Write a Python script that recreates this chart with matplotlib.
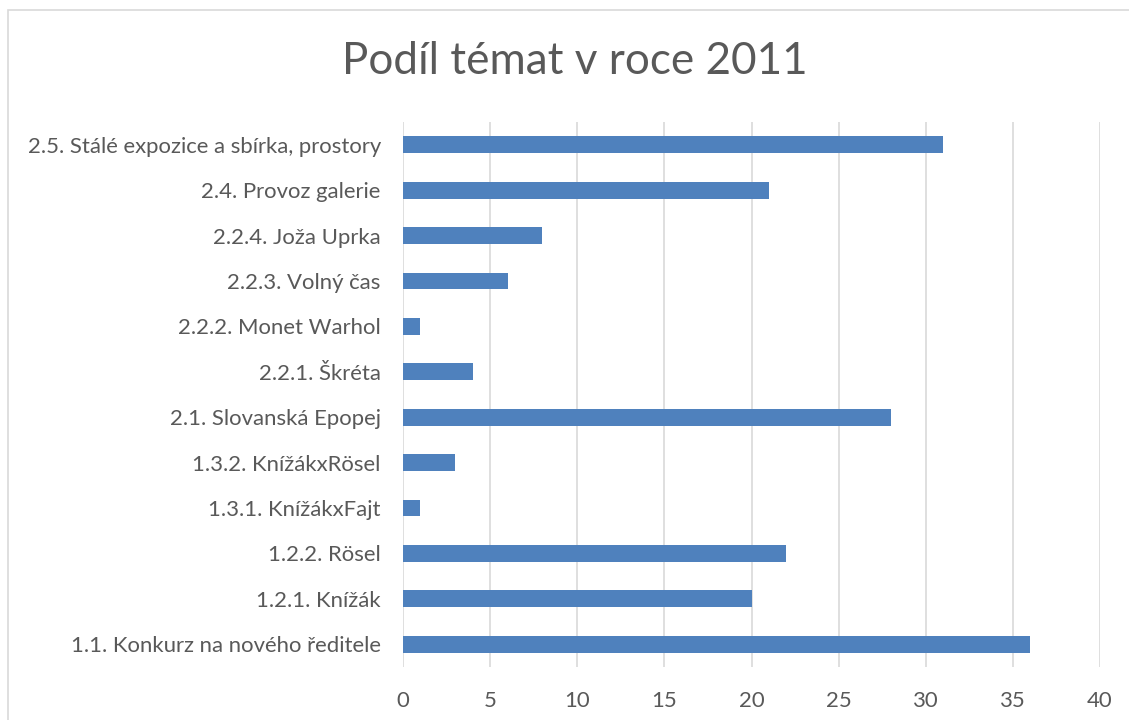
import matplotlib.pyplot as plt
from matplotlib.patches import Rectangle

categories = [
    '1.1. Konkurz na nového ředitele',
    '1.2.1. Knížák',
    '1.2.2. Rösel',
    '1.3.1. KnížákxFajt',
    '1.3.2. KnížákxRösel',
    '2.1. Slovanská Epopej',
    '2.2.1. Škréta',
    '2.2.2. Monet Warhol',
    '2.2.3. Volný čas',
    '2.2.4. Joža Uprka',
    '2.4. Provoz galerie',
    '2.5. Stálé expozice a sbírka, prostory',
]
values = [36, 20, 22, 1, 3, 28, 4, 1, 6, 8, 21, 31]
xticks = [0, 5, 10, 15, 20, 25, 30, 35, 40]

plt.rcParams['font.family'] = ['Lato', 'DejaVu Sans']
gray = '#595959'

fig = plt.figure(figsize=(11.29, 7.2), dpi=100)
fig.patches.append(Rectangle((8 / 1129, -0.1), 1.2, 1.1 - 10 / 720,
                             transform=fig.transFigure, fill=False,
                             edgecolor='#D9D9D9', linewidth=1.2))

ax = fig.add_axes([403 / 1129, 1 - 667 / 720, 697 / 1129, 545 / 720])
ax.barh(range(len(categories)), values, height=0.37, color='#4F81BD', zorder=3)

ax.set_xlim(0, 40)
ax.set_ylim(-0.5, len(categories) - 0.5)
ax.set_xticks(xticks)
ax.set_yticks(range(len(categories)))
ax.set_yticklabels(categories)
ax.grid(axis='x', color='#D9D9D9', linewidth=1.2, zorder=0)
for s in ax.spines.values():
    s.set_visible(False)
ax.tick_params(axis='both', length=0, labelsize=15.9, colors=gray)
ax.tick_params(axis='y', pad=16)
ax.tick_params(axis='x', pad=17)

fig.text(575 / 1129, 1 - 62 / 720, 'Podíl témat v roce 2011', ha='center',
         va='center', fontsize=31.7, color=gray)

fig.savefig('out.png', dpi=100)
